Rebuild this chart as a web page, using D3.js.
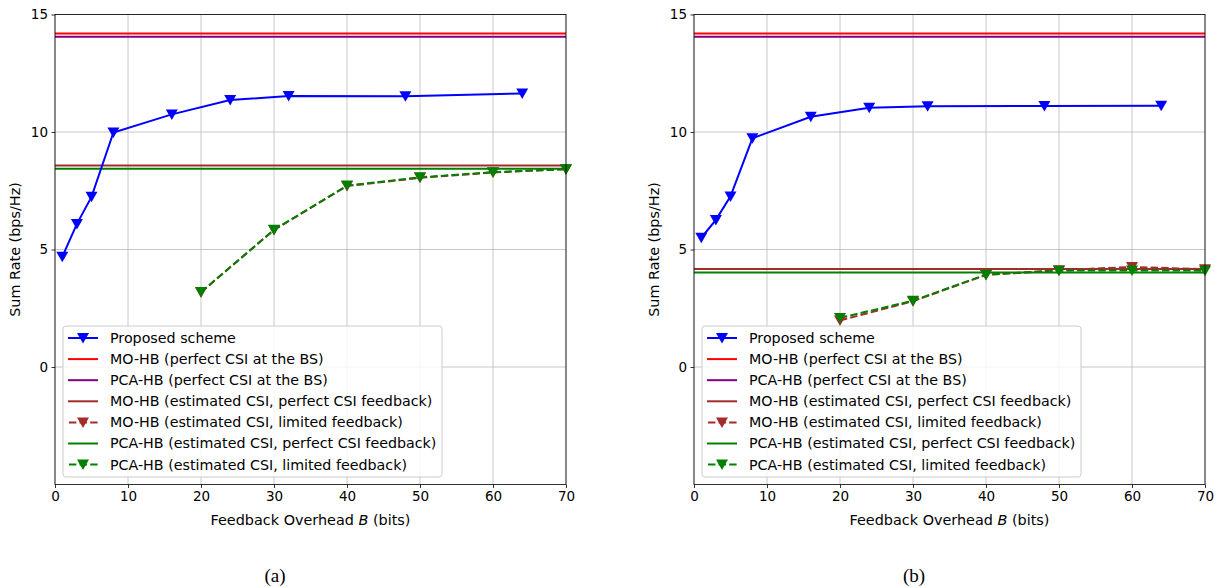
<!DOCTYPE html>
<html><head><meta charset="utf-8">
<script src="https://cdn.jsdelivr.net/npm/d3@7"></script>
<style>body{margin:0;background:#fff}svg{display:block}</style>
</head><body>
<svg id="c" width="1215" height="587" font-family="DejaVu Sans, sans-serif"></svg>
<script>
const xTicks = [0,10,20,30,40,50,60,70];
const yTicks = [0,5,10,15];
const proposedX = [1,3,5,8,16,24,32,48,64];
const limitedX = [20,30,40,50,60,70];

// Panel (a)
const aProposed = [4.69,6.09,7.24,9.98,10.75,11.36,11.53,11.52,11.64];
const aMoPerfect = 14.19;
const aPcaPerfect = 14.05;
const aMoEst = 8.57;
const aPcaEst = 8.44;
const aMoLimited = [3.18,5.83,7.70,8.05,8.28,8.42];
const aPcaLimited = [3.19,5.84,7.72,8.07,8.29,8.42];

// Panel (b)
const bProposed = [5.50,6.26,7.26,9.73,10.65,11.03,11.10,11.11,11.12];
const bMoPerfect = 14.19;
const bPcaPerfect = 14.05;
const bMoEst = 4.17;
const bPcaEst = 4.02;
const bMoLimited = [1.98,2.80,3.92,4.12,4.26,4.16];
const bPcaLimited = [2.09,2.82,3.93,4.10,4.11,4.10];

const legendLabels = ["Proposed scheme","MO-HB (perfect CSI at the BS)","PCA-HB (perfect CSI at the BS)",
  "MO-HB (estimated CSI, perfect CSI feedback)","MO-HB (estimated CSI, limited feedback)",
  "PCA-HB (estimated CSI, perfect CSI feedback)","PCA-HB (estimated CSI, limited feedback)"];
const captions = ["(a)","(b)"];

const C = {blue:"#0000ff", red:"#ff0000", purple:"#800080", brown:"#a52a2a", green:"#008000"};
const svg = d3.select("#c");
const tri = d3.symbol().type({draw(ctx,size){const s=Math.sqrt(size);ctx.moveTo(-s*0.6,-s*0.5);ctx.lineTo(s*0.6,-s*0.5);ctx.lineTo(0,s*0.55);ctx.closePath();}}).size(100)();

function panel(left, d, caption){
  const W=511, H=470, top=14.5;
  const g = svg.append("g").attr("transform",`translate(${left},${top})`);
  const x = d3.scaleLinear().domain([0,70]).range([0,W]);
  const y = d3.scaleLinear().domain([-5,15]).range([H,0]);
  // grid
  g.append("g").selectAll("line").data(xTicks).join("line")
    .attr("x1",v=>x(v)).attr("x2",v=>x(v)).attr("y1",0).attr("y2",H)
    .attr("stroke","#b0b0b0").attr("stroke-opacity",0.7).attr("stroke-width",1);
  g.append("g").selectAll("line").data(yTicks).join("line")
    .attr("y1",v=>y(v)).attr("y2",v=>y(v)).attr("x1",0).attr("x2",W)
    .attr("stroke","#b0b0b0").attr("stroke-opacity",0.7).attr("stroke-width",1);

  const clip = "clip"+left;
  g.append("clipPath").attr("id",clip).append("rect").attr("width",W).attr("height",H);
  const pg = g.append("g").attr("clip-path",`url(#${clip})`);
  const hline=(v,col)=>pg.append("line").attr("x1",0).attr("x2",W).attr("y1",y(v)).attr("y2",y(v)).attr("stroke",col).attr("stroke-width",2);
  hline(d.moPerfect,C.red); hline(d.pcaPerfect,C.purple); hline(d.moEst,C.brown); hline(d.pcaEst,C.green);
  const line = d3.line().x(p=>x(p[0])).y(p=>y(p[1]));
  function series(xs, ys, col, dashed){
    const pts = xs.map((v,i)=>[v,ys[i]]);
    pg.append("path").attr("d",line(pts)).attr("fill","none").attr("stroke",col).attr("stroke-width",2)
      .attr("stroke-dasharray",dashed?"7.4,3.2":null);
    g.append("g").selectAll("path").data(pts).join("path").attr("d",tri)
      .attr("transform",p=>`translate(${x(p[0])},${y(p[1])})`).attr("fill",col);
  }
  series(limitedX,d.moLimited,C.brown,true);
  series(limitedX,d.pcaLimited,C.green,true);
  series(proposedX,d.proposed,C.blue,false);

  // axes
  const ax = g.append("g").attr("transform",`translate(0,${H})`).call(d3.axisBottom(x).tickValues(xTicks).tickSize(3.5).tickPadding(3.5));
  const ay = g.append("g").call(d3.axisLeft(y).tickValues(yTicks).tickSize(3.5).tickPadding(3.5));
  [ax,ay].forEach(a=>{a.attr("font-family",null).attr("font-size",null);a.selectAll("text").attr("font-size",13.5).attr("fill","#000");a.select(".domain").remove();a.selectAll("line").attr("stroke","#000").attr("stroke-width",0.8);});
  g.append("rect").attr("width",W).attr("height",H).attr("fill","none").attr("stroke","#000").attr("stroke-width",0.8);

  g.append("text").attr("x",W/2).attr("y",H+40).attr("text-anchor","middle").attr("font-size",14.4)
    .html('Feedback Overhead <tspan font-style="italic">B</tspan> (bits)');
  g.append("text").attr("transform",`translate(-35,${H/2}) rotate(-90)`).attr("text-anchor","middle").attr("font-size",14.4)
    .text("Sum Rate (bps/Hz)");
  g.append("text").attr("x",220).attr("y",567.5).attr("text-anchor","middle").attr("font-size",19)
    .style("font-family","'Liberation Serif', 'Times New Roman', serif").text(caption);

  // legend
  const lg = g.append("g").attr("transform",`translate(8,${311.5})`);
  lg.append("rect").attr("width",379).attr("height",151).attr("rx",3).attr("fill","#fff").attr("fill-opacity",0.8)
    .attr("stroke","#cccccc").attr("stroke-width",1);
  const styles=[[C.blue,false,true],[C.red,false,false],[C.purple,false,false],[C.brown,false,false],[C.brown,true,true],[C.green,false,false],[C.green,true,true]];
  legendLabels.forEach((t,i)=>{
    const yy=12+i*21.1; const [col,dash,mk]=styles[i];
    lg.append("line").attr("x1",5).attr("x2",35).attr("y1",yy).attr("y2",yy).attr("stroke",col).attr("stroke-width",2)
      .attr("stroke-dasharray",dash?"7.4,3.2":null).attr("stroke-dashoffset",dash?-1:0);
    if(mk) lg.append("path").attr("d",tri).attr("transform",`translate(20,${yy})`).attr("fill",col);
    lg.append("text").attr("x",47).attr("y",yy).attr("dy","0.35em").attr("font-size",14.25).text(t);
  });
}
panel(55,{proposed:aProposed,moPerfect:aMoPerfect,pcaPerfect:aPcaPerfect,moEst:aMoEst,pcaEst:aPcaEst,moLimited:aMoLimited,pcaLimited:aPcaLimited},captions[0]);
panel(694,{proposed:bProposed,moPerfect:bMoPerfect,pcaPerfect:bPcaPerfect,moEst:bMoEst,pcaEst:bPcaEst,moLimited:bMoLimited,pcaLimited:bPcaLimited},captions[1]);
</script>
</body></html>
